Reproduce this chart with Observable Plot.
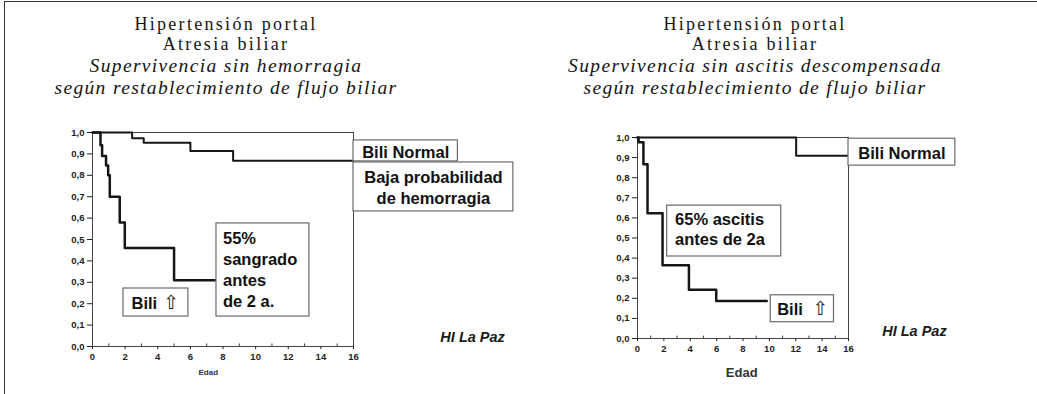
<!DOCTYPE html>
<html>
<head>
<meta charset="utf-8">
<script src="https://cdn.jsdelivr.net/npm/d3@7"></script>
<script src="https://cdn.jsdelivr.net/npm/@observablehq/plot@0.6"></script>
<style>
  body { margin: 0; background: #fff; }
  #page { position: relative; width: 1037px; height: 394px; overflow: hidden; background: #fff; }
  #border { position: absolute; left: 4px; top: 1px; width: 1040px; height: 400px; border-left: 1.5px solid #333; border-top: 1.5px solid #333; }
  .panel { position: absolute; top: 0; }
  .tl { position: absolute; font-family: "Liberation Serif", "DejaVu Serif", serif; font-size: 18px; line-height: 17px; height: 17px;
        letter-spacing: 2.3px; color: #151515; white-space: nowrap; transform: translateX(-50%); }
  .tl.it { font-style: italic; font-size: 19.5px; line-height: 20px; height: 20px; letter-spacing: 1.35px; }
</style>
</head>
<body>
<div id="page">
  <div id="border"></div>
  <div id="left" class="panel" style="left:0px"></div>
  <div id="right" class="panel" style="left:520px"></div>
</div>
<script>
// ---------- data ----------
const xTickValues = [0, 2, 4, 6, 8, 10, 12, 14, 16];
const xMinorValues = [1, 3, 5, 7, 9, 11, 13, 15];
const yTickValues = [0, 0.1, 0.2, 0.3, 0.4, 0.5, 0.6, 0.7, 0.8, 0.9, 1.0];

// Left: survival without haemorrhage (Kaplan-Meier steps)
const hemNormalT = [0, 2.43, 3.14, 6.0, 8.62, 16];
const hemNormalS = [1.0, 0.973, 0.952, 0.913, 0.868, 0.868];
const hemBiliT = [0, 0.49, 0.59, 0.83, 0.96, 1.06, 1.67, 1.98, 5.0, 7.6];
const hemBiliS = [1.0, 0.94, 0.89, 0.846, 0.80, 0.70, 0.58, 0.46, 0.31, 0.31];

// Right: survival without decompensated ascites
const ascNormalT = [0, 12.03, 16];
const ascNormalS = [1.0, 0.909, 0.909];
const ascBiliT = [0, 0.08, 0.45, 0.76, 1.9, 3.9, 5.97, 9.8];
const ascBiliS = [1.0, 0.976, 0.867, 0.623, 0.365, 0.243, 0.187, 0.187];

const leftTitle = ["Hipertensión portal", "Atresia biliar", "Supervivencia sin hemorragia", "según restablecimiento de flujo biliar"];
const rightTitle = ["Hipertensión portal", "Atresia biliar", "Supervivencia sin ascitis descompensada", "según restablecimiento de flujo biliar"];

const axisLabel = "Edad";
const sourceNote = "HI La Paz";
const arrowGlyph = "⇧";

// annotation boxes (in data units of each panel)
const leftBoxes = [
  {x1: 16, x2: 22.4, y1: 0.865, y2: 0.963, tx: 19.2, ty: 0.914, anchor: "middle", lineAnchor: "middle", text: "Bili Normal"},
  {x1: 16, x2: 25.8, y1: 0.631, y2: 0.860, tx: 20.9, ty: 0.745, anchor: "middle", lineAnchor: "middle", text: "Baja probabilidad\nde hemorragia"},
  {x1: 7.6, x2: 13.3, y1: 0.140, y2: 0.575, tx: 8.0, ty: 0.550, anchor: "start", lineAnchor: "top", text: "55%\nsangrado\nantes\nde 2 a."},
  {x1: 1.9, x2: 5.88, y1: 0.140, y2: 0.271, tx: 2.39, ty: 0.205, anchor: "start", lineAnchor: "middle", text: "Bili", arrowX: 4.81}
];
const rightBoxes = [
  {x1: 16, x2: 24.1, y1: 0.860, y2: 0.994, tx: 20.05, ty: 0.927, anchor: "middle", lineAnchor: "middle", text: "Bili Normal"},
  {x1: 2.25, x2: 10.9, y1: 0.408, y2: 0.661, tx: 2.85, ty: 0.635, anchor: "start", lineAnchor: "top", text: "65% ascitis\nantes de 2a"},
  {x1: 10.1, x2: 14.9, y1: 0.081, y2: 0.215, tx: 10.59, ty: 0.148, anchor: "start", lineAnchor: "middle", text: "Bili", arrowX: 13.85}
];

// ---------- drawing ----------
const fmt = d => d3.format(".1f")(d).replace(".", ",");
const sans = "'Liberation Sans', Arial, 'DejaVu Sans', sans-serif";

function series(t, s) { return t.map((v, i) => ({t: v, s: s[i]})); }

function panel(o) {
  const arrows = o.boxes.filter(b => b.arrowX != null);
  return Plot.plot({
    width: o.width, height: 394,
    marginLeft: o.ml, marginRight: o.mr, marginTop: o.mt, marginBottom: o.mb,
    x: {domain: [0, 16], label: null},
    y: {domain: [0, 1], label: null},
    style: {background: "transparent", overflow: "visible", color: "#222"},
    marks: [
      Plot.frame({stroke: "#444", strokeWidth: 1}),
      Plot.axisY({ticks: yTickValues, tickFormat: fmt, tickSize: 5, tickPadding: 3,
                  fontSize: 9.5, fontWeight: "bold", fontFamily: sans, label: null, letterSpacing: 0.6}),
      Plot.axisX({ticks: xTickValues, tickFormat: d => String(d), tickSize: 3, tickPadding: 4,
                  fontSize: 9.5, fontWeight: "bold", fontFamily: sans, label: null}),
      Plot.ruleX(xMinorValues, {y1: 0, y2: 0.012, stroke: "#444"}),
      ...o.curves.map(c => Plot.line(series(c.t, c.s), {x: "t", y: "s", curve: "step-after",
                  stroke: "#151515", strokeWidth: c.w})),
      Plot.rect(o.boxes, {x1: "x1", x2: "x2", y1: "y1", y2: "y2", fill: "white", stroke: "#6a6a6a", strokeWidth: 1.2}),
      ...o.boxes.map(b => Plot.text([b], {x: "tx", y: "ty", text: "text", textAnchor: b.anchor, lineAnchor: b.lineAnchor,
                  fontSize: o.boxFont, lineHeight: o.boxLine, fontWeight: "bold", fontFamily: sans, fill: "#111"})),
      Plot.text(arrows, {x: "arrowX", y: "ty", text: () => arrowGlyph, fontSize: 19, fontFamily: "'DejaVu Sans', sans-serif",
                  fill: "#222", lineAnchor: "middle"}),
      Plot.text([axisLabel], {x: o.edadX, y: 0, dy: o.edadDy, text: d => d, fontSize: o.edadSize,
                  fontFamily: sans, fontWeight: "bold", fill: "#333"}),
      Plot.text([sourceNote], {x: o.noteX, y: o.noteY, text: d => d, fontSize: 14.5, fontStyle: "italic",
                  fontWeight: "bold", fontFamily: sans, fill: "#1a1a1a", lineAnchor: "bottom"})
    ]
  });
}

document.getElementById("left").appendChild(panel({
  width: 520, ml: 92, mr: 167, mt: 132, mb: 48,
  curves: [{t: hemNormalT, s: hemNormalS, w: 2}, {t: hemBiliT, s: hemBiliS, w: 2.5}],
  boxes: leftBoxes, boxFont: 16.5, boxLine: 1.27,
  edadX: 7.1, edadDy: 26, edadSize: 8,
  noteX: 23.3, noteY: 0.02
}));

document.getElementById("right").appendChild(panel({
  width: 517, ml: 117, mr: 189, mt: 137, mb: 56,
  curves: [{t: ascNormalT, s: ascNormalS, w: 2}, {t: ascBiliT, s: ascBiliS, w: 2.5}],
  boxes: rightBoxes, boxFont: 16.5, boxLine: 1.22,
  edadX: 7.9, edadDy: 34, edadSize: 13,
  noteX: 21.0, noteY: 0.012
}));

// titles (HTML, above the charts)
const page = document.getElementById("page");
const tops = [16.42, 36.42, 56.42, 78.12];
function addTitle(lines, cx) {
  lines.forEach((txt, i) => {
    const d = document.createElement("div");
    d.className = "tl" + (i >= 2 ? " it" : "");
    d.style.left = cx + "px";
    d.style.top = tops[i] + "px";
    d.textContent = txt;
    page.appendChild(d);
  });
}
addTitle(leftTitle, 226);
addTitle(rightTitle, 755);
</script>
</body>
</html>
